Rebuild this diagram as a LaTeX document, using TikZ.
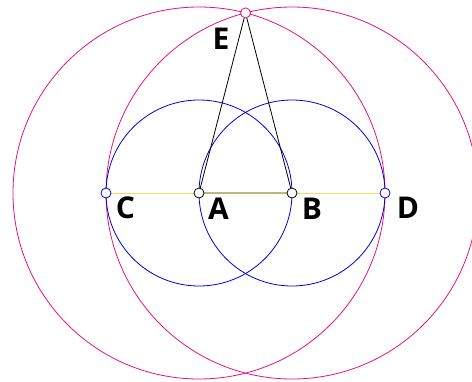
\documentclass[tikz,border=0pt]{standalone}
\usepackage{fontspec}
\setmainfont{Open Sans}
\begin{document}
\begin{tikzpicture}[x=1pt,y=-1pt,
  bluec/.style={draw={rgb,255:red,0;green,0;blue,220},line width=0.8pt},
  pinkc/.style={draw={rgb,255:red,230;green,20;blue,120},line width=0.8pt},
  pt/.style={circle,fill=white,draw,line width=0.8pt,inner sep=0pt,minimum size=10pt},
  lab/.style={font=\bfseries\fontsize{30}{30}\selectfont,inner sep=0pt}]
\useasboundingbox (0,0) rectangle (472,381);
\clip (0,0) rectangle (472,381);
\coordinate (Cc) at (106,193);
\coordinate (Ac) at (199,193);
\coordinate (Bc) at (292,193);
\coordinate (Dc) at (385,193);
\coordinate (Ec) at (245.5,12.9);
\draw[pinkc] (Ac) circle (186);
\draw[pinkc] (Bc) circle (186);
\draw[bluec] (Ac) circle (93);
\draw[bluec] (Bc) circle (93);
\draw[line width=0.7pt,draw={rgb,255:red,235;green,225;blue,90}] (Cc) -- (Dc);
\draw[line width=1.2pt,draw={rgb,255:red,190;green,185;blue,120}] (Ac) -- (Bc);
\draw[line width=0.8pt] (Ac) -- (Ec) -- (Bc);
\node[pt,draw={rgb,255:red,0;green,0;blue,220}] (C) at (Cc) {};
\node[pt,draw=black] (A) at (Ac) {};
\node[pt,draw=black] (B) at (Bc) {};
\node[pt,draw={rgb,255:red,0;green,0;blue,220}] (D) at (Dc) {};
\node[pt,draw={rgb,255:red,230;green,20;blue,120}] (E) at (Ec) {};
\node[lab] (lC) at (125.5,207.5) {C};
\node[lab] (lA) at (218.5,208.5) {A};
\node[lab] (lB) at (312,208.5) {B};
\node[lab] (lD) at (408,208) {D};
\node[lab] (lE) at (221,39) {E};
\end{tikzpicture}
\end{document}
